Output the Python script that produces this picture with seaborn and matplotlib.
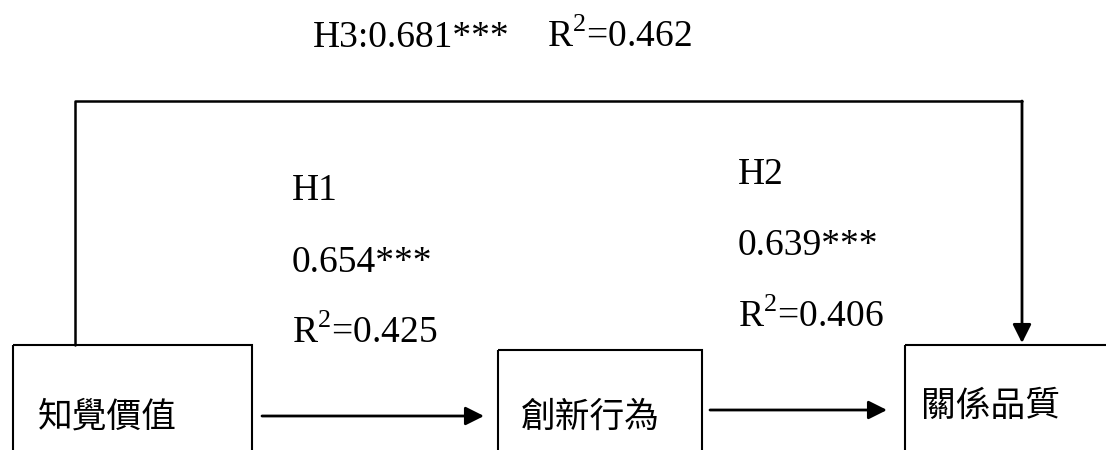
import numpy as np
import pandas as pd
import matplotlib.pyplot as plt
import seaborn as sns
from matplotlib.patches import Rectangle

# path model: constructs and coefficients
constructs = ['知覺價值', '創新行為', '關係品質']
paths = ['H1', 'H2', 'H3']
betas = ['0.654***', '0.639***', '0.681***']
r2 = ['0.425', '0.406', '0.462']

sns.set_theme(style='white')
plt.rcParams['font.family'] = ['Liberation Serif', 'DejaVu Serif']
plt.rcParams['mathtext.fontset'] = 'custom'
plt.rcParams['mathtext.rm'] = 'Liberation Serif'
plt.rcParams['text.color'] = 'black'

fig = plt.figure(figsize=(11.06, 4.5), dpi=100)
ax = fig.add_axes([0, 0, 1, 1])

# H3 direct path drawn over the top
h3 = pd.DataFrame({'x': [75, 75, 1022], 'y': [345, 101, 101]})
sns.lineplot(data=h3, x='x', y='y', sort=False, estimator=None,
             color='black', lw=1.8, ax=ax)

ax.set_xlim(0, 1106)
ax.set_ylim(450, 0)
ax.axis('off')

# layout in pixel units
boxes = [(13, 345, 239), (498, 350, 204), (905, 345, 230)]
label_pos = [(107, 417), (590, 417), (991, 406)]
for (x0, y0, w), (lx, ly), name in zip(boxes, label_pos, constructs):
    ax.add_patch(Rectangle((x0, y0), w, 200, fill=False, ec='black', lw=1.5))
    ax.text(lx, ly, name, ha='center', va='center', fontsize=25,
            family=['Noto Sans CJK TC', 'DejaVu Sans'])

arrow = dict(arrowstyle='-|>', color='black', lw=2, mutation_scale=28,
             shrinkA=0, shrinkB=0)
ax.annotate('', xy=(484, 416), xytext=(262, 416), arrowprops=arrow)
ax.annotate('', xy=(887, 410), xytext=(710, 410), arrowprops=arrow)
ax.annotate('', xy=(1022, 343), xytext=(1022, 101), arrowprops=arrow)

fs = 27
ax.text(313, 47, f'{paths[2]}:{betas[2]}', fontsize=fs, va='baseline')
ax.text(547, 47, r'R$^{\mathrm{2}}$' + f'={r2[2]}', fontsize=fs, va='baseline')

for x, ys, i in [(292, (200, 272, 343), 0), (738, (184, 255, 327), 1)]:
    ax.text(x, ys[0], paths[i], fontsize=fs, va='baseline')
    ax.text(x, ys[1], betas[i], fontsize=fs, va='baseline')
    ax.text(x, ys[2], r'R$^{\mathrm{2}}$' + f'={r2[i]}', fontsize=fs, va='baseline')

fig.savefig('out.png', dpi=100, facecolor='white')
